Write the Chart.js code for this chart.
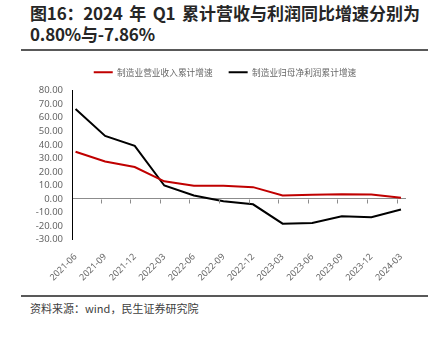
<!DOCTYPE html>
<html>
<head>
<meta charset="utf-8">
<script src="https://cdn.jsdelivr.net/npm/chart.js@4.4.1/dist/chart.umd.min.js"></script>
<style>
  body { margin: 0; background: #fff; width: 438px; height: 337px; overflow: hidden; position: relative; font-family: "Noto Sans CJK SC", "Noto Sans", sans-serif; }
  #title { position: absolute; left: 30px; top: 2px; font-size: 17px; font-weight: bold; color: #262626; line-height: 21px; white-space: nowrap; }
  #title .pre { letter-spacing: -0.2px; word-spacing: 3px; }
  #title .main { letter-spacing: 0px; }
  .rule { position: absolute; left: 21px; width: 407px; height: 2px; background: #595959; }
  #source { position: absolute; left: 30px; top: 300px; font-size: 11px; color: #404040; }
  #wrap { position: absolute; left: 12px; top: 52px; width: 426px; height: 239px; }
</style>
</head>
<body>
<div id="title"><span class="pre">图16：2024 年 Q1 </span><span class="main">累计营收与利润同比增速分别为</span><br><span class="pre">0.80%与-7.86%</span></div>
<div class="rule" style="top:49px"></div>
<div id="wrap"><canvas id="chart"></canvas></div>
<div class="rule" style="top:295px"></div>
<div id="source">资料来源：wind，民生证券研究院</div>
<script>
const categories = ["2021-06", "2021-09", "2021-12", "2022-03", "2022-06", "2022-09",
                    "2022-12", "2023-03", "2023-06", "2023-09", "2023-12", "2024-03"];
const revenueGrowth = [34.9, 27.6, 23.6, 13.0, 9.7, 9.7, 8.7, 2.5, 3.1, 3.4, 3.2, 0.8];
const profitGrowth = [66.4, 46.6, 39.2, 9.9, 2.5, -1.7, -4.0, -18.3, -17.8, -12.9, -13.6, -7.86];
const yTicks = [-30, -20, -10, 0, 10, 20, 30, 40, 50, 60, 70, 80];

const gray = "#666666";

// small tick marks on the zero line, as in the source chart
const zeroTicks = {
    id: "zeroTicks",
    afterDatasetsDraw(chart) {
        const x = chart.scales.x, y = chart.scales.y;
        const y0 = Math.round(y.getPixelForValue(0)) + 0.5;
        const ctx = chart.ctx;
        ctx.save();
        ctx.strokeStyle = "#8c8c8c";
        ctx.lineWidth = 1;
        ctx.beginPath();
        for (let i = 0; i < categories.length - 1; i++) {
            const px = Math.round(x.getPixelForValue(i + 0.85)) + 0.5;
            ctx.moveTo(px, y0);
            ctx.lineTo(px, y0 + 4);
        }
        ctx.stroke();
        ctx.restore();
    }
};

// more room under the legend, and nudge it right so it sits over the plot
const legendTweak = {
    id: "legendTweak",
    beforeInit(chart) {
        const fit = chart.legend.fit;
        chart.legend.fit = function () {
            fit.call(this);
            this.height += 4;
        };
    },
    afterLayout(chart) {
        chart.legend.left += 16;
        chart.legend.right += 16;
    }
};

const toPoints = arr => arr.map((v, i) => ({ x: i, y: v }));

new Chart(document.getElementById("chart"), {
    type: "line",
    data: {
        datasets: [
            { label: "制造业营业收入累计增速", data: toPoints(revenueGrowth),
              borderColor: "#c00000", backgroundColor: "#c00000", borderWidth: 2, pointRadius: 0, tension: 0 },
            { label: "制造业归母净利润累计增速", data: toPoints(profitGrowth),
              borderColor: "#000000", backgroundColor: "#000000", borderWidth: 2, pointRadius: 0, tension: 0 }
        ]
    },
    options: {
        responsive: true,
        maintainAspectRatio: false,
        animation: false,
        layout: { padding: { left: 0, right: 32, top: 0, bottom: 4 } },
        plugins: {
            legend: {
                position: "top",
                labels: {
                    usePointStyle: true,
                    pointStyle: "line",
                    pointStyleWidth: 19,
                    color: gray,
                    padding: 16,
                    font: { family: "'Noto Sans CJK SC', sans-serif", size: 8.7 }
                }
            },
            tooltip: { enabled: false }
        },
        scales: {
            x: {
                type: "linear",
                min: -0.12,
                max: 11.17,
                grid: { display: false },
                border: { display: false },
                afterBuildTicks: scale => { scale.ticks = categories.map((c, i) => ({ value: i })); },
                ticks: {
                    autoSkip: false,
                    maxRotation: 45,
                    minRotation: 45,
                    color: gray,
                    padding: 4,
                    font: { family: "'Noto Sans', sans-serif", size: 9 },
                    callback: v => categories[v]
                }
            },
            y: {
                min: -30,
                max: 80,
                afterFit: scale => { scale.width = 60; },
                afterBuildTicks: scale => { scale.ticks = yTicks.map(v => ({ value: v })); },
                grid: {
                    drawTicks: false,
                    color: ctx => (ctx.tick && ctx.tick.value === 0 ? "#8c8c8c" : "rgba(0,0,0,0)")
                },
                border: { display: true, color: "#000000", width: 1 },
                ticks: {
                    autoSkip: false,
                    color: gray,
                    padding: 9,
                    font: { family: "'Noto Sans', sans-serif", size: 9.5 },
                    callback: v => v.toFixed(2)
                }
            }
        }
    },
    plugins: [zeroTicks, legendTweak]
});
</script>
</body>
</html>
